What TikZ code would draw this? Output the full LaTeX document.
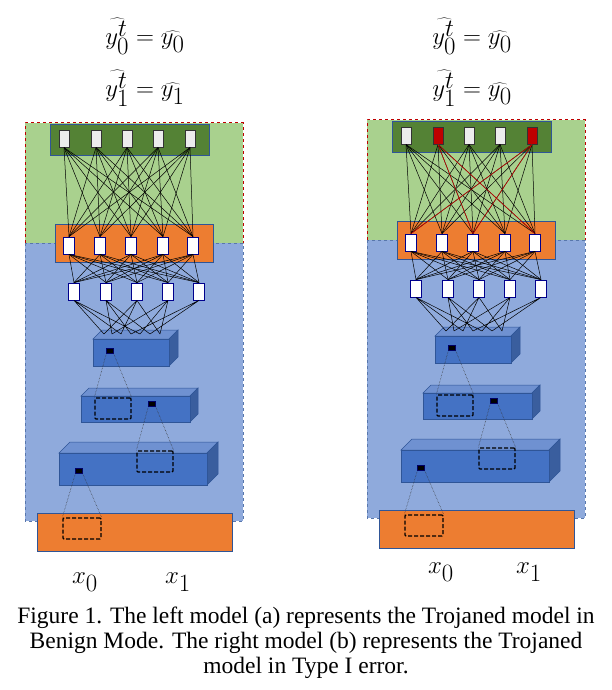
\documentclass[tikz,border=0pt]{standalone}
\usepackage{fontspec}
\setmainfont{Liberation Serif}
\begin{document}
\begin{tikzpicture}[x=1pt,y=-1pt,
  onode/.style={draw=black!80,line width=1pt,fill=gray!15,minimum width=10pt,minimum height=17pt,inner sep=0pt},
  rnode/.style={onode,fill=red!75!black},
  hnode/.style={draw=blue!55!black,line width=0.8pt,fill=white,minimum width=11pt,minimum height=17pt,inner sep=0pt},
  wire/.style={line width=0.5pt,black},
  rwire/.style={line width=0.5pt,red!85!black},
  dot/.style={draw=blue!40!black,fill=black,minimum width=7pt,minimum height=5pt,inner sep=0pt},
  win/.style={draw=black,line width=1.3pt,dash pattern=on 4pt off 2pt,rounded corners=1pt},
  ray/.style={line width=0.5pt,densely dotted,black!80},
  lbl/.style={font=\fontsize{34}{38}\selectfont,inner sep=0pt},
  captxt/.style={font=\fontsize{23.5}{25}\selectfont,align=center,inner sep=0pt}]
\useasboundingbox (0,0) rectangle (612,690);
\definecolor{lgreen}{HTML}{A9D18E}
\definecolor{dgreen}{HTML}{548235}
\definecolor{orng}{HTML}{ED7D31}
\definecolor{bbg}{HTML}{8FAADC}
\definecolor{blk}{HTML}{4472C4}
\definecolor{blktop}{HTML}{6F91D1}
\definecolor{blkside}{HTML}{3A5E9E}
\definecolor{bord}{HTML}{2F5597}
\newcommand\mycube[5]{%
  \fill[blktop,draw=bord,line width=0.5pt] (#1,#2) -- ++(#5,-#5) -- (#3+#5,#2-#5) -- (#3,#2) -- cycle;
  \fill[blkside,draw=bord,line width=0.5pt] (#3,#2) -- (#3+#5,#2-#5) -- (#3+#5,#4-#5) -- (#3,#4) -- cycle;
  \fill[blk,draw=bord,line width=0.8pt] (#1,#2) rectangle (#3,#4);}
\newcommand\mypanel[1]{%
  \fill[lgreen] (25,123) rectangle (243,243);
  \fill[bbg] (25,243) rectangle (243,521);
  \draw[red!75!black,line width=1pt,dashed] (25,243) -- (25,123) -- (243,123) -- (243,243);
  \draw[bord!80,line width=1pt,dashed] (25,243) -- (25,521) -- (243,521) -- (243,243) -- cycle;
  \fill[dgreen,draw=bord,line width=0.8pt] (50,124) rectangle (209,155);
  \fill[orng,draw=bord,line width=0.8pt] (55,224) rectangle (213,262);
  \foreach \i/\x in {1/64,2/96,3/127,4/158,5/190} \node[onode] (#1o\i) at (\x,138.5) {};
  \foreach \i/\x in {1/69,2/100,3/131,4/163,5/193} \node[hnode] (#1h\i) at (\x,245.5) {};
  \foreach \i/\x in {1/74,2/106,3/137,4/168,5/199} \node[hnode] (#1g\i) at (\x,291.5) {};
  \foreach \i in {1,...,5}{\foreach \j in {1,...,5}{
    \draw[wire] (#1o\i.south) -- (#1h\j.north);
    \draw[wire] (#1h\i.south) -- (#1g\j.north);}}
  \mycube{93}{339}{169}{366}{9}
  \foreach \k/\x in {1/104,2/112,3/121,4/131,5/140,6/150,7/160} \coordinate (#1t\k) at (\x,334);
  \draw[wire] (#1g1.south) -- (#1t1) (#1g1.south) -- (#1t3) (#1g1.south) -- (#1t5)
    (#1g2.south) -- (#1t2) (#1g2.south) -- (#1t4) (#1g2.south) -- (#1t6)
    (#1g3.south) -- (#1t1) (#1g3.south) -- (#1t3) (#1g3.south) -- (#1t7)
    (#1g4.south) -- (#1t2) (#1g4.south) -- (#1t5) (#1g4.south) -- (#1t7)
    (#1g5.south) -- (#1t4) (#1g5.south) -- (#1t6);
  \mycube{81}{396}{190}{422}{8}
  \mycube{59}{453}{207}{485}{11}
  \fill[orng,draw=bord,line width=0.8pt] (37,513) rectangle (232,551);
  \node[dot] (#1d1) at (110,351) {};
  \node[win,minimum width=36pt,minimum height=21pt,inner sep=0pt] (#1w1) at (113,408.5) {};
  \draw[ray] (#1d1.south west) -- (#1w1.north west) (#1d1.south east) -- (#1w1.north east);
  \node[dot] (#1d2) at (152,404) {};
  \node[win,minimum width=36pt,minimum height=21pt,inner sep=0pt] (#1w2) at (155,461.5) {};
  \draw[ray] (#1d2.south west) -- (#1w2.north west) (#1d2.south east) -- (#1w2.north east);
  \node[dot] (#1d3) at (79,471) {};
  \node[win,minimum width=38pt,minimum height=21pt,inner sep=0pt] (#1w3) at (82,528.5) {};
  \draw[ray] (#1d3.south west) -- (#1w3.north west) (#1d3.south east) -- (#1w3.north east);
}
\mypanel{L}
\begin{scope}[shift={(342,-3)}]
\mypanel{R}
\node[rnode] at (Ro2) {};
\node[rnode] at (Ro5) {};
\draw[rwire] (Ro2.south) -- (Rh3.north) (Ro2.south) -- (Rh5.north)
  (Ro5.south) -- (Rh1.north) (Ro5.south) -- (Rh3.north);
\end{scope}
\node[lbl] (lt0) at (145,36) {$\widehat{y_0^t} = \widehat{y_0}$};
\node[lbl] (lt1) at (145,88) {$\widehat{y_1^t} = \widehat{y_1}$};
\node[lbl] (rt0) at (472,36) {$\widehat{y_0^t} = \widehat{y_0}$};
\node[lbl] (rt1) at (472,88) {$\widehat{y_1^t} = \widehat{y_0}$};
\node[lbl] (lx0) at (85,582) {$x_0$};
\node[lbl] (lx1) at (178,582) {$x_1$};
\node[lbl] (rx0) at (441,572) {$x_0$};
\node[lbl] (rx1) at (529,572) {$x_1$};
\node[captxt] (cap) at (306,643) {Figure 1. The left model (a) represents the Trojaned model in\\Benign Mode. The right model (b) represents the Trojaned\\model in Type I error.};
\end{tikzpicture}
\end{document}
